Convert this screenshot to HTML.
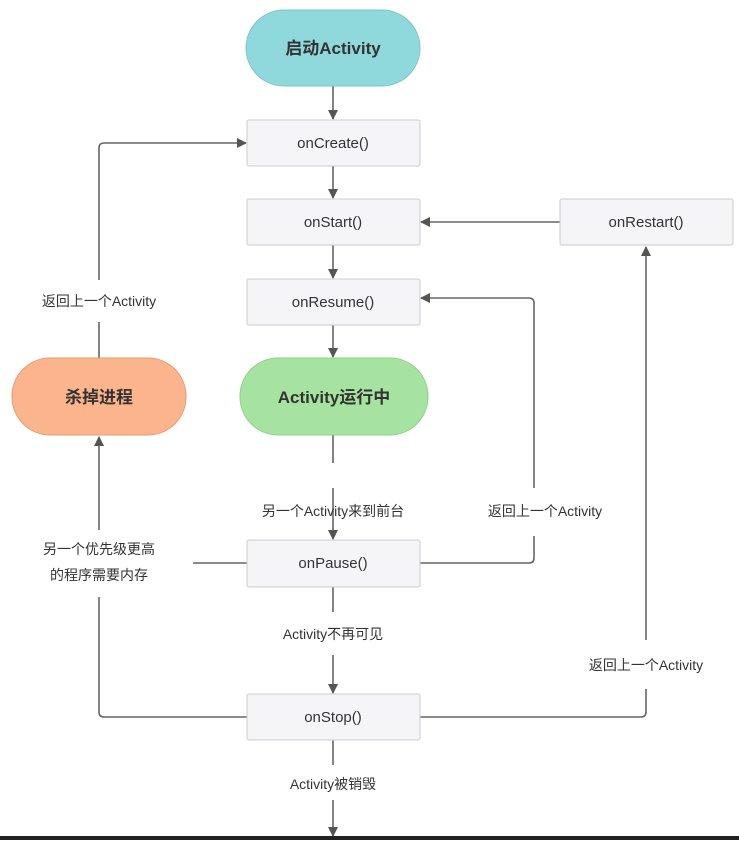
<!DOCTYPE html>
<html><head><meta charset="utf-8"><style>
html,body{margin:0;padding:0;background:#fff;}
body{width:739px;height:840px;overflow:hidden;}
text{font-family:"Liberation Sans","Noto Sans CJK SC",sans-serif;fill:#333;}
</style></head><body>
<svg width="739" height="840" viewBox="0 0 739 840" xmlns="http://www.w3.org/2000/svg">
<defs><marker id="a" markerWidth="10" markerHeight="10" refX="9" refY="5" orient="auto" markerUnits="userSpaceOnUse"><path d="M0,0 L10,5 L0,10 Z" fill="#555"/></marker></defs>
<rect x="0" y="0" width="739" height="840" fill="#fff"/>
<g stroke="#666" stroke-width="1.6" fill="none">
<line x1="333" y1="86" x2="333" y2="119" marker-end="url(#a)"/>
<line x1="333" y1="166" x2="333" y2="198" marker-end="url(#a)"/>
<line x1="333" y1="245" x2="333" y2="278" marker-end="url(#a)"/>
<line x1="333" y1="325" x2="333" y2="357" marker-end="url(#a)"/>
<line x1="333" y1="435" x2="333" y2="463"/>
<line x1="333" y1="488" x2="333" y2="539" marker-end="url(#a)"/>
<line x1="333" y1="587" x2="333" y2="612"/>
<line x1="333" y1="655" x2="333" y2="693" marker-end="url(#a)"/>
<line x1="333" y1="740" x2="333" y2="765"/>
<line x1="333" y1="800" x2="333" y2="836" marker-end="url(#a)"/>
<path d="M247,717 H104 Q99,717 99,712 V597"/>
<line x1="99" y1="530" x2="99" y2="437" marker-end="url(#a)"/>
<line x1="193" y1="563" x2="247" y2="563"/>
<line x1="99" y1="358" x2="99" y2="322"/>
<path d="M99,280 V148 Q99,143 104,143 H246" marker-end="url(#a)"/>
<path d="M420,563 H529 Q534,563 534,558 V536"/>
<path d="M534,488 V303 Q534,298 529,298 H421" marker-end="url(#a)"/>
<path d="M420,717 H641 Q646,717 646,712 V689"/>
<line x1="646" y1="640" x2="646" y2="247" marker-end="url(#a)"/>
<line x1="560" y1="222" x2="421" y2="222" marker-end="url(#a)"/>
</g>
<rect x="246" y="10" width="174" height="76" rx="38" fill="#8fd8dc" stroke="#7cc4c8"/>
<rect x="240" y="358" width="188" height="77" rx="38" fill="#a6e3a0" stroke="#8fd08a"/>
<rect x="12" y="358" width="174" height="77" rx="38" fill="#fbb48c" stroke="#e89a72"/>
<g fill="#f5f5f7" stroke="#ccc">
<rect x="247" y="120" width="173" height="46" rx="2"/>
<rect x="247" y="199" width="173" height="46" rx="2"/>
<rect x="247" y="279" width="173" height="46" rx="2"/>
<rect x="247" y="540" width="173" height="47" rx="2"/>
<rect x="247" y="694" width="173" height="46" rx="2"/>
<rect x="560" y="199" width="173" height="46" rx="2"/>
</g>
<g text-anchor="middle" font-size="15">
<text x="333" y="54" font-weight="bold" font-size="17">启动Activity</text>
<text x="334" y="403" font-weight="bold" font-size="17">Activity运行中</text>
<text x="99" y="403" font-weight="bold" font-size="17">杀掉进程</text>
<text x="333" y="148">onCreate()</text>
<text x="333" y="227">onStart()</text>
<text x="333" y="307">onResume()</text>
<text x="333" y="568">onPause()</text>
<text x="333" y="722">onStop()</text>
<text x="646" y="227">onRestart()</text>
</g>
<g text-anchor="middle" font-size="14">
<text x="99" y="306">返回上一个Activity</text>
<text x="333" y="516">另一个Activity来到前台</text>
<text x="545" y="516">返回上一个Activity</text>
<text x="99" y="554">另一个优先级更高</text>
<text x="99" y="580">的程序需要内存</text>
<text x="333" y="639">Activity不再可见</text>
<text x="646" y="670">返回上一个Activity</text>
<text x="333" y="789">Activity被销毁</text>
</g>
<rect x="0" y="836" width="739" height="4" fill="#222"/>
</svg>
</body></html>
